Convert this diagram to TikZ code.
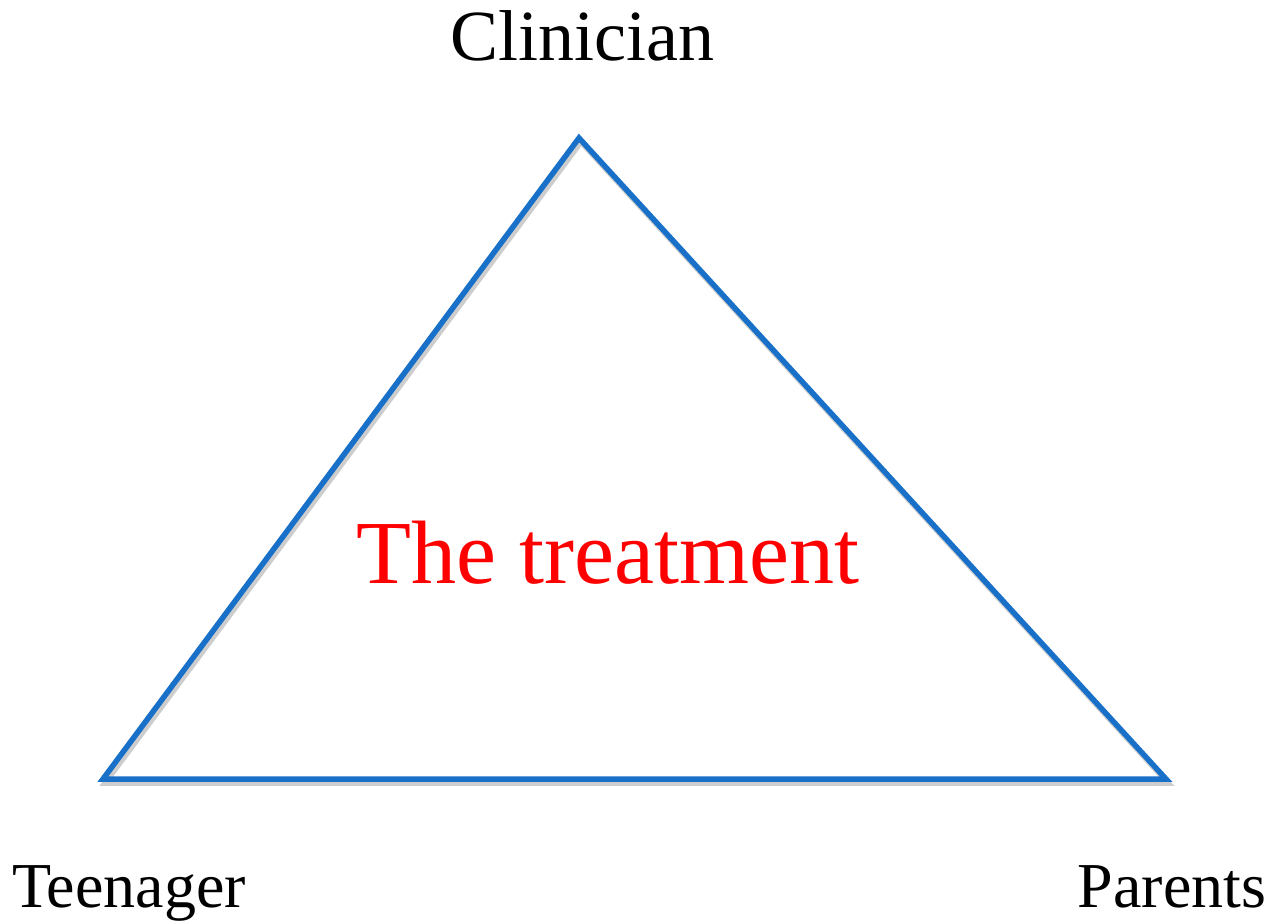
\documentclass[tikz,border=0pt]{standalone}
\usepackage{fontspec}
\setmainfont{Liberation Serif}
\definecolor{triblue}{RGB}{24,112,200}
\definecolor{shadowgray}{RGB}{205,205,205}
\tikzset{
  edge/.style={draw=triblue, line width=5.5pt, line cap=round},
  edgeshadow/.style={draw=shadowgray, line width=5.5pt, line cap=round},
  role/.style={anchor=base, inner sep=0pt, font=\fontsize{64}{76}\selectfont, text=black},
  toprole/.style={anchor=base, inner sep=0pt, font=\fontsize{72}{86}\selectfont, text=black},
  centre/.style={anchor=base, inner sep=0pt, font=\fontsize{90}{108}\selectfont, text=red}
}
\begin{document}
\begin{tikzpicture}[x=1pt,y=-1pt]
\useasboundingbox (0,0) rectangle (1270,923);
\coordinate (top) at (579,138);
\coordinate (bl) at (103,779);
\coordinate (br) at (1166,779);
\begin{scope}[shift={(2,4)}]
\coordinate (stop) at (579,138);
\coordinate (sbl) at (103,779);
\coordinate (sbr) at (1166,779);
\end{scope}
\draw[edgeshadow] (stop) -- (sbl) -- (sbr) -- cycle;
\draw[edge] (top) -- (bl) -- (br) -- cycle;
\node[toprole] (clin) at (582,61) {Clinician};
\node[role] (teen) at (129,907) {Teenager};
\node[role] (par) at (1172,907) {Parents};
\node[centre] (treat) at (608,583) {The treatment};
\end{tikzpicture}
\end{document}
